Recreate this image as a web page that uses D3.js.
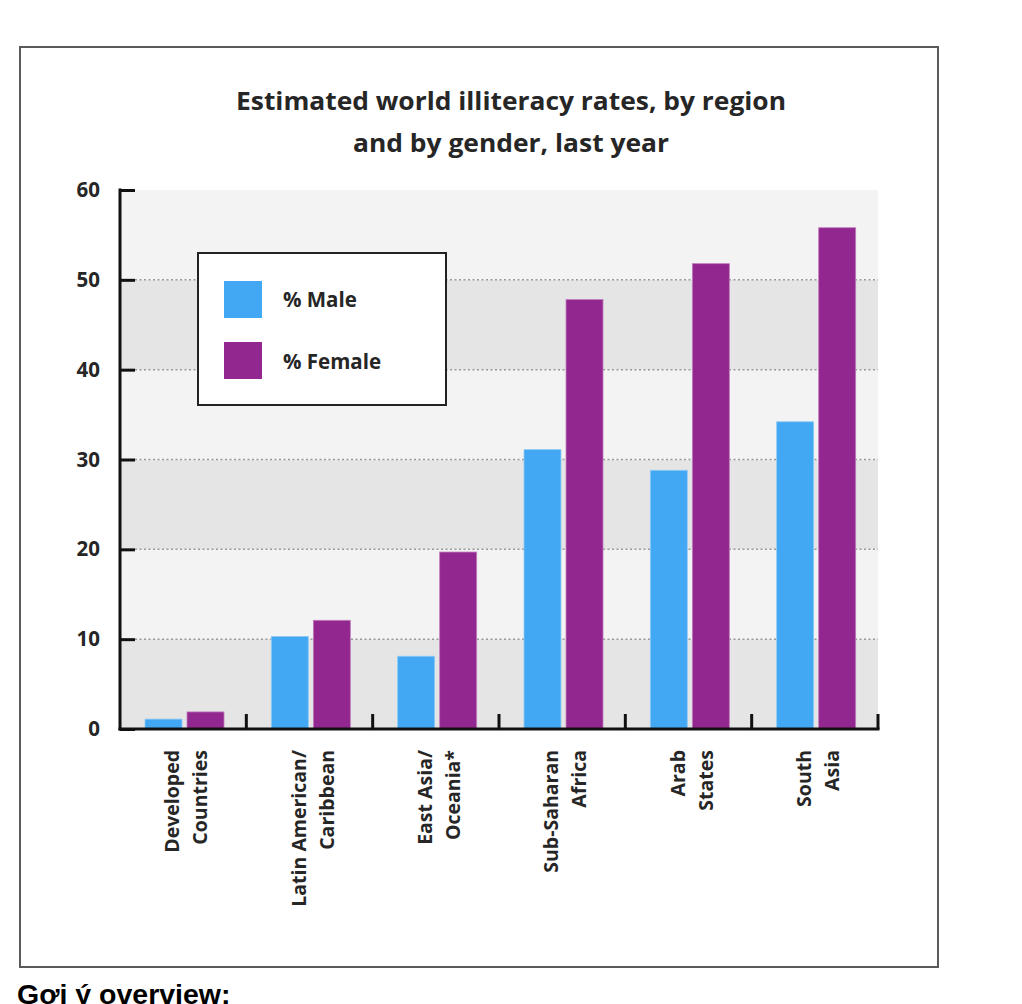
<!DOCTYPE html>
<html><head><meta charset="utf-8">
<script src="https://cdn.jsdelivr.net/npm/d3@7"></script>
<style>
html,body{margin:0;padding:0;background:#fff;}
svg{display:block;}
</style></head>
<body>
<script>
const categories = [["Developed","Countries"],["Latin American/","Caribbean"],["East Asia/","Oceania*"],["Sub-Saharan","Africa"],["Arab","States"],["South","Asia"]];
const seriesNames = ["% Male","% Female"];
const maleValues = [1.1, 10.3, 8.1, 31.1, 28.8, 34.2];
const femaleValues = [1.9, 12.1, 19.7, 47.8, 51.8, 55.8];
const yTicks = [0,10,20,30,40,50,60];
const titleLines = ["Estimated world illiteracy rates, by region","and by gender, last year"];
const colors = ["#42a8f3","#92278f"];

const W = 1022, H = 1004;
const svg = d3.select("body").append("svg").attr("width",W).attr("height",H);
const font = "'Open Sans', sans-serif";

// frame
svg.append("rect").attr("x",20).attr("y",47).attr("width",918).attr("height",920)
  .attr("fill","#fff").attr("stroke","#5a5a5a").attr("stroke-width",2);

const L = 120, R = 878, T = 190, B = 729;
const y = d3.scaleLinear().domain([0,60]).range([B,T]);
const keys = categories.map(c => c.join(" "));
const x0 = d3.scaleBand().domain(keys).range([L,R]);
const x1 = d3.scaleBand().domain(seriesNames).range([25,104]).paddingInner(0.12);

// bands
const bands = d3.pairs(yTicks);
svg.append("g").selectAll("rect").data(bands).join("rect")
  .attr("x",L).attr("width",R-L)
  .attr("y",d=>y(d[1])).attr("height",d=>y(d[0])-y(d[1]))
  .attr("fill",(d,i)=> i%2===0 ? "#e5e5e5" : "#f3f3f3");

// grid
svg.append("g").selectAll("line").data(yTicks.filter(v=>v>0 && v<60)).join("line")
  .attr("x1",L+15).attr("x2",R).attr("y1",d=>y(d)).attr("y2",d=>y(d))
  .attr("stroke","#999").attr("stroke-width",1.5).attr("stroke-dasharray","2,2.5");

// title
svg.append("g").selectAll("text").data(titleLines).join("text")
  .attr("x",511).attr("y",(d,i)=>110+i*42)
  .attr("text-anchor","middle").attr("font-family",font).attr("font-weight",700)
  .attr("font-size",25).attr("fill","#262626")
  .attr("textLength",(d,i)=> i===0?550:316).attr("lengthAdjust","spacingAndGlyphs")
  .text(d=>d);

// bars
const data = keys.map((k,i)=>({key:k, vals:[maleValues[i], femaleValues[i]]}));
const gGroups = svg.append("g").selectAll("g").data(data).join("g")
  .attr("transform",d=>`translate(${x0(d.key)},0)`);
gGroups.selectAll("rect").data(d=>d.vals.map((v,i)=>({s:seriesNames[i],v,i}))).join("rect")
  .attr("x",d=>x1(d.s)).attr("width",x1.bandwidth())
  .attr("y",d=>y(d.v)).attr("height",d=>y(0)-y(d.v))
  .attr("fill",d=>colors[d.i]).attr("stroke",d=>d.i===0?"#8fcaf5":"#c07bbd").attr("stroke-width",0.8);

// y axis
const yAxis = d3.axisRight(y).tickValues(yTicks).tickSize(15).tickFormat("");
const gy = svg.append("g").attr("transform",`translate(${L},0)`).call(yAxis);
gy.select(".domain").remove();
gy.selectAll(".tick line").attr("stroke","#111").attr("stroke-width",3);
svg.append("line").attr("x1",L).attr("x2",L).attr("y1",T-1.5).attr("y2",B+1.5).attr("stroke","#111").attr("stroke-width",3);
svg.append("g").selectAll("text").data(yTicks).join("text")
  .attr("x",100).attr("y",d=>y(d)+7).attr("text-anchor","end")
  .attr("font-family",font).attr("font-weight",700).attr("font-size",20.5).attr("fill","#262626")
  .text(d=>d);

// x axis
svg.append("line").attr("x1",L-1.5).attr("x2",R+1.5).attr("y1",B).attr("y2",B).attr("stroke","#111").attr("stroke-width",3);
svg.append("g").selectAll("line").data(keys).join("line")
  .attr("x1",d=>x0(d)+x0.bandwidth()).attr("x2",d=>x0(d)+x0.bandwidth())
  .attr("y1",B).attr("y2",B-15).attr("stroke","#111").attr("stroke-width",3);

// x labels
const xl = svg.append("g").selectAll("text").data(categories).join("text")
  .attr("transform",(d,i)=>`translate(${x0(keys[i])+x0.bandwidth()/2},750) rotate(-90)`)
  .attr("text-anchor","end").attr("font-family",font).attr("font-weight",700)
  .attr("font-size",19.5).attr("fill","#262626");
xl.selectAll("tspan").data(d=>d).join("tspan")
  .attr("x",0).attr("y",(d,i)=> i===0 ? -4 : 24).text(d=>d);

// legend
const lg = svg.append("g");
lg.append("rect").attr("x",198).attr("y",253).attr("width",248).attr("height",152)
  .attr("fill","#fff").attr("stroke","#222").attr("stroke-width",2);
lg.selectAll(".sw").data(seriesNames).join("rect").attr("class","sw")
  .attr("x",224).attr("y",(d,i)=>281+i*61).attr("width",38).attr("height",37)
  .attr("fill",(d,i)=>colors[i]);
lg.selectAll("text").data(seriesNames).join("text")
  .attr("x",283).attr("y",(d,i)=>307+i*62)
  .attr("font-family",font).attr("font-weight",700).attr("font-size",20.5).attr("fill","#262626")
  .text(d=>d);

// bottom caption
svg.append("text").attr("x",17).attr("y",1004)
  .attr("font-family","'Liberation Sans', Arial, sans-serif").attr("font-weight",700)
  .attr("font-size",28.5).attr("fill","#000").text("Gợi ý overview:");
</script>
</body></html>
